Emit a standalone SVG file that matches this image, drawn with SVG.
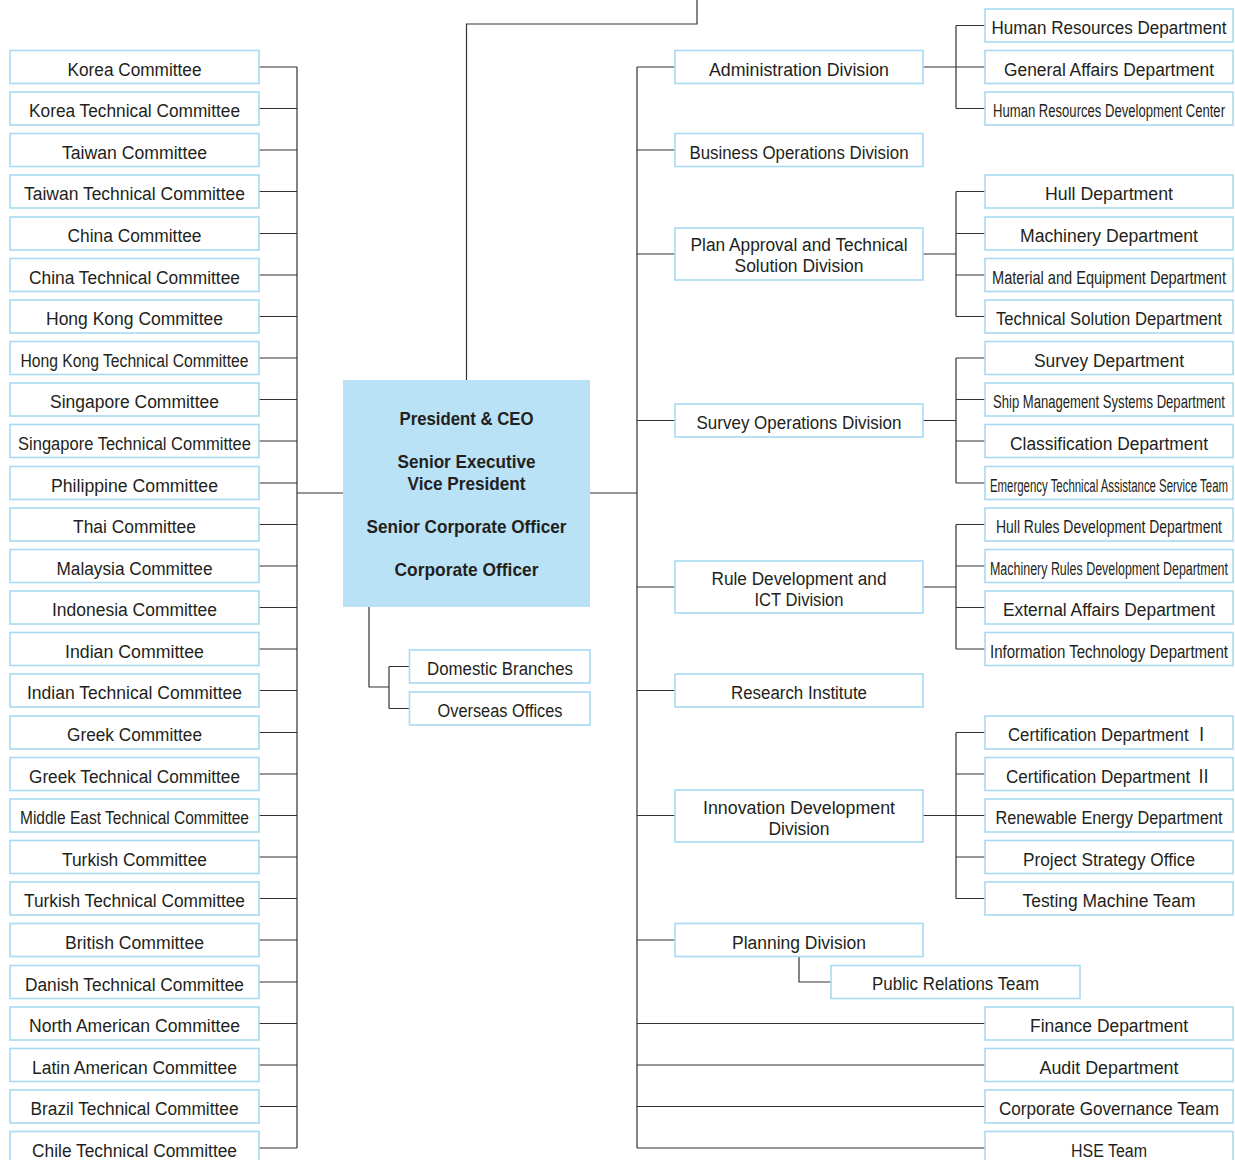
<svg xmlns="http://www.w3.org/2000/svg" width="1235" height="1160" viewBox="0 0 1235 1160">
<style>
.box{fill:#ffffff;stroke:#a8daf3;stroke-width:1.6}
.ceo{fill:#b9e2f7;stroke:none}
.t{font-family:"Liberation Sans","Noto Sans CJK JP",sans-serif;font-size:18px;fill:#231f20;text-anchor:middle}
.b{font-weight:bold;font-size:18.5px}
.ln{stroke:#333333;stroke-width:1.2;fill:none}
</style>
<rect width="1235" height="1160" fill="#ffffff"/>
<g id="connectors">
<path class="ln" d="M697,0 V24 H466.5 V380"/>
<path class="ln" d="M297,67 V1148 M297,493 H343"/>
<path class="ln" d="M259,67 H297 M259,108.5 H297 M259,150 H297 M259,191.5 H297 M259,233.5 H297 M259,275 H297 M259,316.5 H297 M259,358 H297 M259,399.5 H297 M259,441 H297 M259,483 H297 M259,524.5 H297 M259,566 H297 M259,607.5 H297 M259,649 H297 M259,690.5 H297 M259,732.5 H297 M259,774 H297 M259,815.5 H297 M259,857 H297 M259,898.5 H297 M259,940 H297 M259,982 H297 M259,1023.5 H297 M259,1065 H297 M259,1106.5 H297 M259,1148 H297"/>
<path class="ln" d="M369,607 V687 H389 M389,666.5 V708.5 M389,666.5 H409.5 M389,708.5 H409.5"/>
<path class="ln" d="M590,493 H637 M637,67 V1148"/>
<path class="ln" d="M637,67 H675 M637,150 H675 M637,254 H675 M637,420.5 H675 M637,587 H675 M637,690.5 H675 M637,815.5 H675 M637,940 H675"/>
<path class="ln" d="M637,1023.5 H985 M637,1065 H985 M637,1106.5 H985 M637,1148 H985"/>
<path class="ln" d="M923,67 H956 M956,25.5 V108.5 M956,25.5 H985 M956,67 H985 M956,108.5 H985"/>
<path class="ln" d="M923,254 H956 M956,191.5 V316.5 M956,191.5 H985 M956,233.5 H985 M956,275 H985 M956,316.5 H985"/>
<path class="ln" d="M923,420.5 H956 M956,358 V483 M956,358 H985 M956,399.5 H985 M956,441 H985 M956,483 H985"/>
<path class="ln" d="M923,587 H956 M956,524.5 V649 M956,524.5 H985 M956,566 H985 M956,607.5 H985 M956,649 H985"/>
<path class="ln" d="M923,815.5 H956 M956,732.5 V898.5 M956,732.5 H985 M956,774 H985 M956,815.5 H985 M956,857 H985 M956,898.5 H985"/>
<path class="ln" d="M799,956.5 V982 H831"/>
</g>
<g id="ceo"><rect class="ceo" x="343" y="380" width="247" height="227"/>
<text class="t b" x="466.5" y="425" textLength="134" lengthAdjust="spacingAndGlyphs">President &amp; CEO</text>
<text class="t b" x="466.5" y="468" textLength="138" lengthAdjust="spacingAndGlyphs">Senior Executive</text>
<text class="t b" x="466.5" y="490" textLength="118" lengthAdjust="spacingAndGlyphs">Vice President</text>
<text class="t b" x="466.5" y="533" textLength="200" lengthAdjust="spacingAndGlyphs">Senior Corporate Officer</text>
<text class="t b" x="466.5" y="576" textLength="144" lengthAdjust="spacingAndGlyphs">Corporate Officer</text></g>
<g id="l0"><rect class="box" x="10" y="50.5" width="249" height="33"/><text class="t" x="134.5" y="75.5" textLength="134" lengthAdjust="spacingAndGlyphs">Korea Committee</text></g>
<g id="l1"><rect class="box" x="10" y="92" width="249" height="33"/><text class="t" x="134.5" y="117" textLength="211" lengthAdjust="spacingAndGlyphs">Korea Technical Committee</text></g>
<g id="l2"><rect class="box" x="10" y="133.5" width="249" height="33"/><text class="t" x="134.5" y="158.5" textLength="145" lengthAdjust="spacingAndGlyphs">Taiwan Committee</text></g>
<g id="l3"><rect class="box" x="10" y="175" width="249" height="33"/><text class="t" x="134.5" y="200" textLength="221" lengthAdjust="spacingAndGlyphs">Taiwan Technical Committee</text></g>
<g id="l4"><rect class="box" x="10" y="217" width="249" height="33"/><text class="t" x="134.5" y="242" textLength="134" lengthAdjust="spacingAndGlyphs">China Committee</text></g>
<g id="l5"><rect class="box" x="10" y="258.5" width="249" height="33"/><text class="t" x="134.5" y="283.5" textLength="211" lengthAdjust="spacingAndGlyphs">China Technical Committee</text></g>
<g id="l6"><rect class="box" x="10" y="300" width="249" height="33"/><text class="t" x="134.5" y="325" textLength="177" lengthAdjust="spacingAndGlyphs">Hong Kong Committee</text></g>
<g id="l7"><rect class="box" x="10" y="341.5" width="249" height="33"/><text class="t" x="134.5" y="366.5" textLength="228" lengthAdjust="spacingAndGlyphs">Hong Kong Technical Committee</text></g>
<g id="l8"><rect class="box" x="10" y="383" width="249" height="33"/><text class="t" x="134.5" y="408" textLength="169" lengthAdjust="spacingAndGlyphs">Singapore Committee</text></g>
<g id="l9"><rect class="box" x="10" y="424.5" width="249" height="33"/><text class="t" x="134.5" y="449.5" textLength="233" lengthAdjust="spacingAndGlyphs">Singapore Technical Committee</text></g>
<g id="l10"><rect class="box" x="10" y="466.5" width="249" height="33"/><text class="t" x="134.5" y="491.5" textLength="167" lengthAdjust="spacingAndGlyphs">Philippine Committee</text></g>
<g id="l11"><rect class="box" x="10" y="508" width="249" height="33"/><text class="t" x="134.5" y="533" textLength="123" lengthAdjust="spacingAndGlyphs">Thai Committee</text></g>
<g id="l12"><rect class="box" x="10" y="549.5" width="249" height="33"/><text class="t" x="134.5" y="574.5" textLength="156" lengthAdjust="spacingAndGlyphs">Malaysia Committee</text></g>
<g id="l13"><rect class="box" x="10" y="591" width="249" height="33"/><text class="t" x="134.5" y="616" textLength="165" lengthAdjust="spacingAndGlyphs">Indonesia Committee</text></g>
<g id="l14"><rect class="box" x="10" y="632.5" width="249" height="33"/><text class="t" x="134.5" y="657.5" textLength="139" lengthAdjust="spacingAndGlyphs">Indian Committee</text></g>
<g id="l15"><rect class="box" x="10" y="674" width="249" height="33"/><text class="t" x="134.5" y="699" textLength="215" lengthAdjust="spacingAndGlyphs">Indian Technical Committee</text></g>
<g id="l16"><rect class="box" x="10" y="716" width="249" height="33"/><text class="t" x="134.5" y="741" textLength="135" lengthAdjust="spacingAndGlyphs">Greek Committee</text></g>
<g id="l17"><rect class="box" x="10" y="757.5" width="249" height="33"/><text class="t" x="134.5" y="782.5" textLength="211" lengthAdjust="spacingAndGlyphs">Greek Technical Committee</text></g>
<g id="l18"><rect class="box" x="10" y="799" width="249" height="33"/><text class="t" x="134.5" y="824" textLength="229" lengthAdjust="spacingAndGlyphs">Middle East Technical Committee</text></g>
<g id="l19"><rect class="box" x="10" y="840.5" width="249" height="33"/><text class="t" x="134.5" y="865.5" textLength="145" lengthAdjust="spacingAndGlyphs">Turkish Committee</text></g>
<g id="l20"><rect class="box" x="10" y="882" width="249" height="33"/><text class="t" x="134.5" y="907" textLength="221" lengthAdjust="spacingAndGlyphs">Turkish Technical Committee</text></g>
<g id="l21"><rect class="box" x="10" y="923.5" width="249" height="33"/><text class="t" x="134.5" y="948.5" textLength="139" lengthAdjust="spacingAndGlyphs">British Committee</text></g>
<g id="l22"><rect class="box" x="10" y="965.5" width="249" height="33"/><text class="t" x="134.5" y="990.5" textLength="219" lengthAdjust="spacingAndGlyphs">Danish Technical Committee</text></g>
<g id="l23"><rect class="box" x="10" y="1007" width="249" height="33"/><text class="t" x="134.5" y="1032" textLength="211" lengthAdjust="spacingAndGlyphs">North American Committee</text></g>
<g id="l24"><rect class="box" x="10" y="1048.5" width="249" height="33"/><text class="t" x="134.5" y="1073.5" textLength="205" lengthAdjust="spacingAndGlyphs">Latin American Committee</text></g>
<g id="l25"><rect class="box" x="10" y="1090" width="249" height="33"/><text class="t" x="134.5" y="1115" textLength="208" lengthAdjust="spacingAndGlyphs">Brazil Technical Committee</text></g>
<g id="l26"><rect class="box" x="10" y="1131.5" width="249" height="33"/><text class="t" x="134.5" y="1156.5" textLength="205" lengthAdjust="spacingAndGlyphs">Chile Technical Committee</text></g>
<g id="domestic"><rect class="box" x="409.5" y="650" width="180.5" height="33"/><text class="t" x="500" y="675" textLength="146" lengthAdjust="spacingAndGlyphs">Domestic Branches</text></g>
<g id="overseas"><rect class="box" x="409.5" y="692" width="180.5" height="33"/><text class="t" x="500" y="717" textLength="125" lengthAdjust="spacingAndGlyphs">Overseas Offices</text></g>
<g id="d-admin"><rect class="box" x="675" y="50.5" width="248" height="33"/><text class="t" x="799" y="75.5" textLength="180" lengthAdjust="spacingAndGlyphs">Administration Division</text></g>
<g id="d-business"><rect class="box" x="675" y="133.5" width="248" height="33"/><text class="t" x="799" y="158.5" textLength="219" lengthAdjust="spacingAndGlyphs">Business Operations Division</text></g>
<g id="d-plan"><rect class="box" x="675" y="228" width="248" height="52"/><text class="t" x="799" y="250.5" textLength="217" lengthAdjust="spacingAndGlyphs">Plan Approval and Technical</text><text class="t" x="799" y="271.5" textLength="129" lengthAdjust="spacingAndGlyphs">Solution Division</text></g>
<g id="d-survey"><rect class="box" x="675" y="404" width="248" height="33"/><text class="t" x="799" y="429" textLength="205" lengthAdjust="spacingAndGlyphs">Survey Operations Division</text></g>
<g id="d-rule"><rect class="box" x="675" y="561" width="248" height="52"/><text class="t" x="799" y="584.5" textLength="175" lengthAdjust="spacingAndGlyphs">Rule Development and</text><text class="t" x="799" y="605.5" textLength="89" lengthAdjust="spacingAndGlyphs">ICT Division</text></g>
<g id="d-research"><rect class="box" x="675" y="674" width="248" height="33"/><text class="t" x="799" y="699" textLength="136" lengthAdjust="spacingAndGlyphs">Research Institute</text></g>
<g id="d-innov"><rect class="box" x="675" y="790" width="248" height="52"/><text class="t" x="799" y="813.5" textLength="192" lengthAdjust="spacingAndGlyphs">Innovation Development</text><text class="t" x="799" y="834.5" textLength="61" lengthAdjust="spacingAndGlyphs">Division</text></g>
<g id="d-planning"><rect class="box" x="675" y="923.5" width="248" height="33"/><text class="t" x="799" y="948.5" textLength="134" lengthAdjust="spacingAndGlyphs">Planning Division</text></g>
<g id="pr"><rect class="box" x="831" y="965.5" width="249" height="33"/><text class="t" x="955.5" y="990" textLength="167" lengthAdjust="spacingAndGlyphs">Public Relations Team</text></g>
<g id="r-hr"><rect class="box" x="985" y="9" width="248" height="33"/><text class="t" x="1109" y="34" textLength="235" lengthAdjust="spacingAndGlyphs">Human Resources Department</text></g>
<g id="r-ga"><rect class="box" x="985" y="50.5" width="248" height="33"/><text class="t" x="1109" y="75.5" textLength="210" lengthAdjust="spacingAndGlyphs">General Affairs Department</text></g>
<g id="r-hrdc"><rect class="box" x="985" y="92" width="248" height="33"/><text class="t" x="1109" y="117" textLength="232" lengthAdjust="spacingAndGlyphs">Human Resources Development Center</text></g>
<g id="r-hull"><rect class="box" x="985" y="175" width="248" height="33"/><text class="t" x="1109" y="200" textLength="128" lengthAdjust="spacingAndGlyphs">Hull Department</text></g>
<g id="r-mach"><rect class="box" x="985" y="217" width="248" height="33"/><text class="t" x="1109" y="242" textLength="178" lengthAdjust="spacingAndGlyphs">Machinery Department</text></g>
<g id="r-mat"><rect class="box" x="985" y="258.5" width="248" height="33"/><text class="t" x="1109" y="283.5" textLength="234" lengthAdjust="spacingAndGlyphs">Material and Equipment Department</text></g>
<g id="r-tech"><rect class="box" x="985" y="300" width="248" height="33"/><text class="t" x="1109" y="325" textLength="226" lengthAdjust="spacingAndGlyphs">Technical Solution Department</text></g>
<g id="r-survey"><rect class="box" x="985" y="341.5" width="248" height="33"/><text class="t" x="1109" y="366.5" textLength="150" lengthAdjust="spacingAndGlyphs">Survey Department</text></g>
<g id="r-ship"><rect class="box" x="985" y="383" width="248" height="33"/><text class="t" x="1109" y="408" textLength="232" lengthAdjust="spacingAndGlyphs">Ship Management Systems Department</text></g>
<g id="r-class"><rect class="box" x="985" y="424.5" width="248" height="33"/><text class="t" x="1109" y="449.5" textLength="198" lengthAdjust="spacingAndGlyphs">Classification Department</text></g>
<g id="r-emerg"><rect class="box" x="985" y="466.5" width="248" height="33"/><text class="t" x="1109" y="491.5" textLength="238" lengthAdjust="spacingAndGlyphs">Emergency Technical Assistance Service Team</text></g>
<g id="r-hullrules"><rect class="box" x="985" y="508" width="248" height="33"/><text class="t" x="1109" y="533" textLength="226" lengthAdjust="spacingAndGlyphs">Hull Rules Development Department</text></g>
<g id="r-machrules"><rect class="box" x="985" y="549.5" width="248" height="33"/><text class="t" x="1109" y="574.5" textLength="238" lengthAdjust="spacingAndGlyphs">Machinery Rules Development Department</text></g>
<g id="r-ext"><rect class="box" x="985" y="591" width="248" height="33"/><text class="t" x="1109" y="616" textLength="212" lengthAdjust="spacingAndGlyphs">External Affairs Department</text></g>
<g id="r-it"><rect class="box" x="985" y="632.5" width="248" height="33"/><text class="t" x="1109" y="657.5" textLength="238" lengthAdjust="spacingAndGlyphs">Information Technology Department</text></g>
<g id="r-cert1"><rect class="box" x="985" y="716" width="248" height="33"/><text class="t" x="1109" y="741" textLength="202" lengthAdjust="spacingAndGlyphs">Certification Department Ⅰ</text></g>
<g id="r-cert2"><rect class="box" x="985" y="757.5" width="248" height="33"/><text class="t" x="1109" y="782.5" textLength="206" lengthAdjust="spacingAndGlyphs">Certification Department Ⅱ</text></g>
<g id="r-renew"><rect class="box" x="985" y="799" width="248" height="33"/><text class="t" x="1109" y="824" textLength="227" lengthAdjust="spacingAndGlyphs">Renewable Energy Department</text></g>
<g id="r-project"><rect class="box" x="985" y="840.5" width="248" height="33"/><text class="t" x="1109" y="865.5" textLength="172" lengthAdjust="spacingAndGlyphs">Project Strategy Office</text></g>
<g id="r-testing"><rect class="box" x="985" y="882" width="248" height="33"/><text class="t" x="1109" y="907" textLength="173" lengthAdjust="spacingAndGlyphs">Testing Machine Team</text></g>
<g id="r-finance"><rect class="box" x="985" y="1007" width="248" height="33"/><text class="t" x="1109" y="1032" textLength="158" lengthAdjust="spacingAndGlyphs">Finance Department</text></g>
<g id="r-audit"><rect class="box" x="985" y="1048.5" width="248" height="33"/><text class="t" x="1109" y="1073.5" textLength="139" lengthAdjust="spacingAndGlyphs">Audit Department</text></g>
<g id="r-gov"><rect class="box" x="985" y="1090" width="248" height="33"/><text class="t" x="1109" y="1115" textLength="220" lengthAdjust="spacingAndGlyphs">Corporate Governance Team</text></g>
<g id="r-hse"><rect class="box" x="985" y="1131.5" width="248" height="33"/><text class="t" x="1109" y="1156.5" textLength="76" lengthAdjust="spacingAndGlyphs">HSE Team</text></g>
</svg>
